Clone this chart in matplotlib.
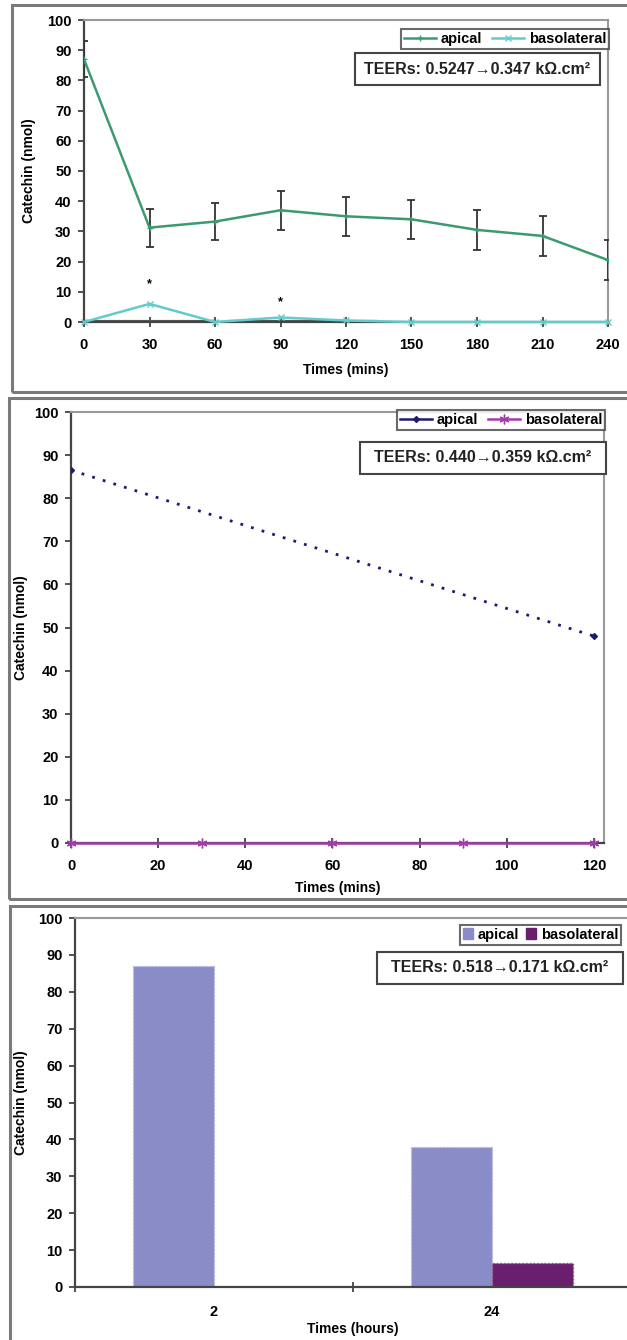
import matplotlib.pyplot as plt
from matplotlib.patches import Rectangle
from matplotlib.lines import Line2D
import numpy as np

plt.rcParams['font.family'] = ['Liberation Sans', 'DejaVu Sans']

W, H = 627, 1340

# panel 1 - time course over 240 mins
t1 = [0, 30, 60, 90, 120, 150, 180, 210, 240]
apical1 = [87, 31.25, 33.25, 37, 35, 34, 30.5, 28.5, 20.5]
apical1_err = [6, 6.25, 6.25, 6.5, 6.5, 6.5, 6.5, 6.5, 6.5]
baso1 = [0, 6, 0, 1.5, 0.5, 0, 0, 0, 0]
stars1 = [(30, 12.5), (90, 6.5)]
teer1 = 'TEERs: 0.5247\u21920.347 k\u03a9.cm\u00b2'

# panel 2 - 120 mins
t2_apical = [0, 120]
apical2 = [86.5, 48]
t2_baso = [0, 30, 60, 90, 120]
baso2 = [0, 0, 0, 0, 0]
teer2 = 'TEERs: 0.440\u21920.359 k\u03a9.cm\u00b2'

# panel 3 - bars, hours
hours = ['2', '24']
apical3 = [87, 38]
baso3 = [0, 6.5]
teer3 = 'TEERs: 0.518\u21920.171 k\u03a9.cm\u00b2'

TICK_FS = 10.5
LABEL_FS = 10
LEG_FS = 10.5


def rect(l, t, r, b):
    return [l / W, 1 - b / H, (r - l) / W, (b - t) / H]


def frame(fig, l, t, r, b):
    fig.patches.append(Rectangle((l / W, 1 - b / H), (r - l) / W, (b - t) / H,
                                 transform=fig.transFigure, fill=False,
                                 edgecolor='#7a7a7a', lw=2.2, clip_on=False))


def teer_box(fig, l, t, r, b, text):
    fig.patches.append(Rectangle((l / W, 1 - b / H), (r - l) / W, (b - t) / H,
                                 transform=fig.transFigure, facecolor='white',
                                 edgecolor='#444444', lw=1.5, zorder=5))
    fig.text((l + r) / 2 / W, 1 - (t + b) / 2 / H, text, ha='center', va='center',
             fontsize=11.5, fontweight='bold', color='#222222', zorder=6)


def style(ax):
    for s in ['left', 'bottom']:
        ax.spines[s].set_color('#444444')
        ax.spines[s].set_linewidth(1.6)
    for s in ['top', 'right']:
        ax.spines[s].set_color('#999999')
        ax.spines[s].set_linewidth(1.5)
    ax.tick_params(axis='y', direction='out', length=4, width=1.3, color='#444444',
                   pad=5, labelsize=TICK_FS)
    ax.tick_params(axis='x', direction='inout', length=7, width=1.3, color='#444444',
                   pad=8, labelsize=TICK_FS)
    for lab in ax.get_xticklabels() + ax.get_yticklabels():
        lab.set_fontweight('bold')
    ax.set_ylim(0, 100)
    ax.set_yticks(range(0, 101, 10))
    ax.set_ylabel('Catechin (nmol)', fontsize=LABEL_FS, fontweight='bold')


def legend(ax, handles, x, y, **kw):
    leg = ax.legend(handles=handles, loc='upper right', bbox_to_anchor=(x / W, 1 - y / H),
                    bbox_transform=fig.transFigure, ncol=2, frameon=True, fancybox=False,
                    prop={'weight': 'bold', 'size': LEG_FS}, handletextpad=0.3,
                    borderpad=0.2, borderaxespad=0, **kw)
    leg.get_frame().set_edgecolor('#444444')
    leg.get_frame().set_linewidth(1.5)
    return leg


fig = plt.figure(figsize=(W / 100, H / 100), dpi=100)

frame(fig, 12, 5, 640, 392)
frame(fig, 9, 398, 640, 899)
frame(fig, 10, 906, 640, 1350)

# ---- panel 1
ax1 = fig.add_axes(rect(84, 20, 608, 322))
ax1.errorbar(t1, apical1, yerr=apical1_err, color='#3c9a70', lw=1.8, marker='+', ms=5,
             ecolor='#333333', elinewidth=1.3, capsize=3, capthick=1.3, zorder=3)
ax1.plot(t1, baso1, color='#62cccc', lw=1.8, marker='x', ms=5, zorder=4, clip_on=False)
ax1.hlines(0, 0, 60, color='#555555', lw=3, zorder=2)
ax1.hlines(0, 66, 135, color='#555555', lw=3, zorder=2)
for x, y in stars1:
    ax1.text(x, y, '*', ha='center', va='center', fontsize=9, fontweight='bold')
ax1.set_xlim(0, 240)
ax1.set_xticks(t1)
style(ax1)
ax1.yaxis.set_label_coords(-0.092, 0.5)
ax1.set_xlabel('Times (mins)', fontsize=LABEL_FS, fontweight='bold', labelpad=8)
h1 = [Line2D([], [], color='#3c9a70', lw=1.8, marker='+', ms=5, label='apical'),
      Line2D([], [], color='#62cccc', lw=1.8, marker='x', ms=5, label='basolateral')]
legend(ax1, h1, 609, 29, handlelength=2.2, columnspacing=0.7)
teer_box(fig, 355, 53, 600, 85, teer1)

# ---- panel 2
ax2 = fig.add_axes(rect(71, 412, 604, 843))
ax2.plot(t2_apical, apical2, color='#1c1c70', lw=2, ls=(0, (1, 3)), marker='D', ms=3,
         label='apical', zorder=3)
ax2.plot(t2_baso, baso2, color='#a23ca8', lw=1.8, marker=(6, 2, 0), ms=7,
         label='basolateral', zorder=4, clip_on=False)
ax2.set_xlim(0, 122.3)
ax2.set_xticks(range(0, 121, 20))
style(ax2)
ax2.yaxis.set_label_coords(-0.081, 0.5)
ax2.set_xlabel('Times (mins)', fontsize=LABEL_FS, fontweight='bold', labelpad=6)
h2 = [Line2D([], [], color='#1c1c70', lw=1.8, marker='D', ms=3, label='apical'),
      Line2D([], [], color='#a23ca8', lw=1.8, marker=(6, 2, 0), ms=7, label='basolateral')]
legend(ax2, h2, 605, 410, handlelength=2.2, columnspacing=0.7)
teer_box(fig, 360, 442, 606, 474, teer2)

# ---- panel 3
ax3 = fig.add_axes(rect(75, 918, 631, 1287))
x = np.arange(len(hours))
w = 0.29
ax3.bar(x - w / 2, apical3, w, color='#8a8cc8', edgecolor='#b8b8d8', ls=':', lw=1,
        label='apical')
ax3.bar(x + w / 2, baso3, w, color='#6a1f6e', edgecolor='#8a5a8a', ls=':', lw=1,
        label='basolateral')
ax3.set_xlim(-0.5, 1.5)
ax3.set_xticks([-0.5, 0.5, 1.5])
ax3.set_xticklabels([])
ax3.set_xticks(x, minor=True)
ax3.set_xticklabels(hours, minor=True)
style(ax3)
ax3.tick_params(axis='x', which='minor', length=0, pad=13, labelsize=TICK_FS)
for lab in ax3.get_xticklabels(minor=True):
    lab.set_fontweight('bold')
ax3.spines['right'].set_visible(False)
ax3.yaxis.set_label_coords(-0.085, 0.5)
ax3.set_xlabel('Times (hours)', fontsize=LABEL_FS, fontweight='bold', labelpad=2)
h3 = [Rectangle((0, 0), 1, 1, color='#8a8cc8', label='apical'),
      Rectangle((0, 0), 1, 1, color='#6a1f6e', label='basolateral')]
legend(ax3, h3, 621, 925, handlelength=0.7, handleheight=0.8, columnspacing=0.5)
teer_box(fig, 377, 952, 623, 984, teer3)

fig.savefig('out.png', dpi=100)
